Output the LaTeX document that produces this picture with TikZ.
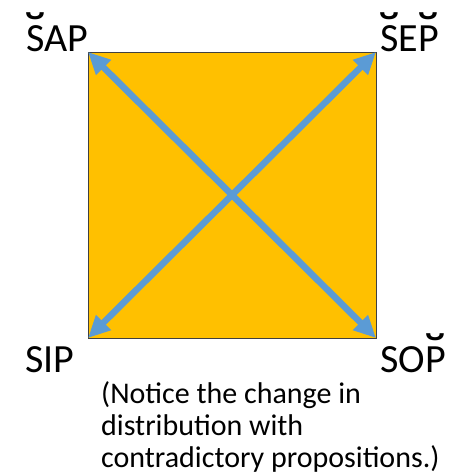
\documentclass[tikz,border=0pt]{standalone}
\usepackage{fontspec}
\setmainfont{Carlito}
\usetikzlibrary{arrows.meta}
\definecolor{sqfill}{HTML}{FFC000}
\definecolor{arrowblue}{HTML}{5B9BD5}
\definecolor{sqline}{HTML}{404040}
\newcommand\brv[1]{\ooalign{#1\cr\hidewidth\raisebox{0.01em}{\scalebox{1.7}[1.4]{˘}}\hidewidth\cr}}
\tikzset{
  corner/.style={font=\fontsize{40}{40}\selectfont, inner sep=0pt, anchor=base west},
  note/.style={font=\fontsize{30}{32}\selectfont, inner sep=0pt, anchor=base west},
  diag/.style={arrowblue, line width=6.5pt, {Triangle[length=22pt,width=20pt]}-{Triangle[length=22pt,width=20pt]}}
}
\begin{document}
\begin{tikzpicture}[x=1pt,y=-1pt]
\useasboundingbox (0,0) rectangle (451,475);
\coordinate (tl) at (88,52);
\coordinate (tr) at (376,52);
\coordinate (bl) at (88,338);
\coordinate (br) at (376,338);
\filldraw[fill=sqfill, draw=sqline, line width=0.8pt] (tl) rectangle (br);
\draw[diag] (tl) -- (br);
\draw[diag] (tr) -- (bl);
\node[corner] (sap) at (26,51) {\brv{S}AP};
\node[corner] (sep) at (380,51) {\brv{S}E\brv{P}};
\node[corner] (sip) at (25,372) {SIP};
\node[corner] (sop) at (380,372) {SO\brv{P}};
\node[note] (n1) at (101,403) {(Notice the change in};
\node[note] (n2) at (101,435) {distribution with};
\node[note] (n3) at (101,467) {contradictory propositions.)};
\end{tikzpicture}
\end{document}
